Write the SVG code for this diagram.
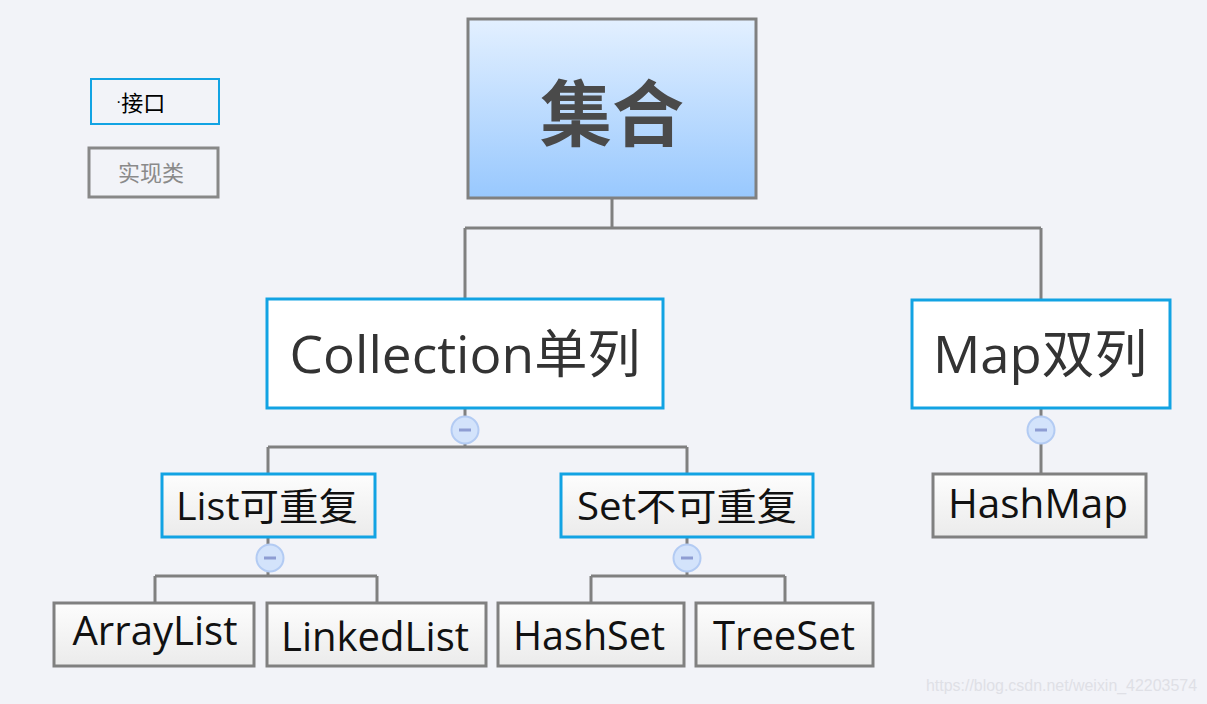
<svg xmlns="http://www.w3.org/2000/svg" width="1207" height="704" viewBox="0 0 1207 704">
<defs>
<linearGradient id="gTop" x1="0" y1="0" x2="0" y2="1"><stop offset="0" stop-color="#e3f0ff"/><stop offset="1" stop-color="#98c8fe"/></linearGradient>
<linearGradient id="gLeaf" x1="0" y1="0" x2="0" y2="1"><stop offset="0" stop-color="#fdfdfd"/><stop offset="1" stop-color="#ebebeb"/></linearGradient>
<style>
.conn{fill:none;stroke:#808080;stroke-width:3}
.iface{stroke:#12a3e3;stroke-width:3}
.impl{stroke:#808080;stroke-width:3;fill:url(#gLeaf)}
.t{font-family:"Open Sans","Noto Sans CJK SC",sans-serif;text-anchor:middle;fill:#111}
.btn circle{fill:#d3e3fb;stroke:#b3cbf3;stroke-width:2}
.btn rect{fill:#8e9dd3}
</style>
</defs>
<rect width="1207" height="704" fill="#f2f3f8"/>
<g id="legend">
<g id="legend-interface"><rect x="91" y="79" width="128" height="45" fill="#f2f3f8" stroke="#12a3e3" stroke-width="2"/><text x="116" y="111" font-family="'Noto Sans CJK SC',sans-serif" font-size="22" fill="#000"><tspan font-family="'Liberation Sans',sans-serif" font-size="16" dy="-4">·</tspan><tspan dy="4">接口</tspan></text></g>
<g id="legend-impl"><rect x="89" y="148" width="129" height="49" fill="#f2f3f8" stroke="#888" stroke-width="3"/><text x="151" y="181" text-anchor="middle" font-family="'Noto Sans CJK SC',sans-serif" font-size="22" fill="#8a8a8a">实现类</text></g>
</g>
<g id="connectors">
<path class="conn" d="M612 198V228M465 228H1041M465 228V298M1041 228V300"/>
<path class="conn" d="M465 408V447M268 447H687M268 447V474M687 447V474"/>
<path class="conn" d="M1041 408V474"/>
<path class="conn" d="M268 537V576M155 576H377M155 576V603M377 576V603"/>
<path class="conn" d="M687 537V576M591 576H785M591 576V603M785 576V603"/>
</g>
<g id="node-root"><rect x="468" y="19" width="288" height="179" fill="url(#gTop)" stroke="#808080" stroke-width="3"/><text x="612" y="140" text-anchor="middle" font-family="'Noto Sans CJK SC',sans-serif" font-weight="bold" font-size="72" fill="#4a4a4a">集合</text></g>
<g id="node-collection"><rect class="iface" x="267" y="299" width="396" height="109" fill="#fff"/><text class="t" x="465" y="373" font-size="52" style="fill:#333" textLength="351" lengthAdjust="spacingAndGlyphs">Collection单列</text></g>
<g id="node-map"><rect class="iface" x="912" y="300" width="258" height="108" fill="#fff"/><text class="t" x="1040" y="373" font-size="52" style="fill:#333" textLength="214" lengthAdjust="spacingAndGlyphs">Map双列</text></g>
<g id="node-list"><rect class="iface" x="162" y="474" width="213" height="63" fill="url(#gLeaf)"/><text class="t" x="267" y="520" font-size="38" textLength="182" lengthAdjust="spacingAndGlyphs">List可重复</text></g>
<g id="node-set"><rect class="iface" x="561" y="474" width="252" height="63" fill="url(#gLeaf)"/><text class="t" x="687" y="520" font-size="38" textLength="220" lengthAdjust="spacingAndGlyphs">Set不可重复</text></g>
<g id="node-hashmap"><rect class="impl" x="933" y="474" width="213" height="63"/><text class="t" x="1038" y="518" font-size="40" textLength="180" lengthAdjust="spacingAndGlyphs">HashMap</text></g>
<g id="node-arraylist"><rect class="impl" x="54" y="603" width="200" height="63"/><text class="t" x="155" y="645" font-size="40" textLength="165" lengthAdjust="spacingAndGlyphs">ArrayList</text></g>
<g id="node-linkedlist"><rect class="impl" x="267" y="603" width="219" height="63"/><text class="t" x="375" y="651" font-size="40" textLength="188" lengthAdjust="spacingAndGlyphs">LinkedList</text></g>
<g id="node-hashset"><rect class="impl" x="498" y="603" width="186" height="63"/><text class="t" x="589" y="650" font-size="40" textLength="152" lengthAdjust="spacingAndGlyphs">HashSet</text></g>
<g id="node-treeset"><rect class="impl" x="696" y="603" width="177" height="63"/><text class="t" x="784" y="650" font-size="40" textLength="142" lengthAdjust="spacingAndGlyphs">TreeSet</text></g>
<g id="collapse-buttons">
<g class="btn"><circle cx="465" cy="430" r="13.5"/><rect x="459" y="428.5" width="12" height="3"/></g>
<g class="btn"><circle cx="1041" cy="430" r="13.5"/><rect x="1035" y="428.5" width="12" height="3"/></g>
<g class="btn"><circle cx="270" cy="558" r="13.5"/><rect x="264" y="556.5" width="12" height="3"/></g>
<g class="btn"><circle cx="687" cy="558" r="13.5"/><rect x="681" y="556.5" width="12" height="3"/></g>
</g>
<text x="1197" y="691" text-anchor="end" font-family="'Liberation Sans',sans-serif" font-size="16" fill="#dfe0e6" textLength="271" lengthAdjust="spacingAndGlyphs">https://blog.csdn.net/weixin_42203574</text>
</svg>
